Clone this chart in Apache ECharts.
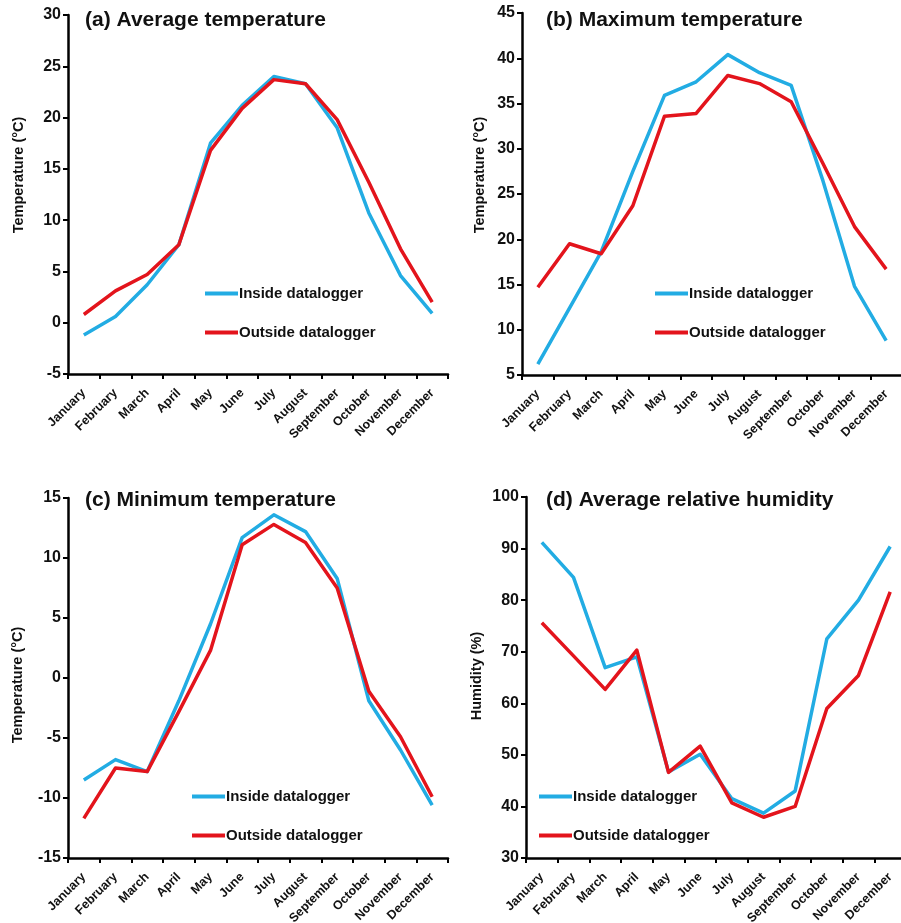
<!DOCTYPE html>
<html>
<head>
<meta charset="utf-8">
<script src="https://cdn.jsdelivr.net/npm/echarts@6/dist/echarts.min.js"></script>
<style>
html,body{margin:0;padding:0;background:#fff;}
#chart{width:901px;height:923px;}
</style>
</head>
<body>
<div id="chart"></div>
<script>
// ---- data ----
const months = ['January','February','March','April','May','June','July','August','September','October','November','December'];
const seriesNames = ['Inside datalogger','Outside datalogger'];

const aTicks = [-5, 0, 5, 10, 15, 20, 25, 30];
const aInside  = [-1.2, 0.6, 3.7, 7.6, 17.5, 21.2, 24.0, 23.3, 19.0, 10.7, 4.6, 0.9];
const aOutside = [0.8, 3.1, 4.7, 7.6, 16.8, 20.9, 23.7, 23.3, 19.8, 13.7, 7.2, 2.0];

const bTicks = [5, 10, 15, 20, 25, 30, 35, 40, 45];
const bInside  = [6.2, 12.4, 18.6, 27.5, 35.9, 37.4, 40.4, 38.4, 37.0, 26.5, 14.8, 8.8];
const bOutside = [14.7, 19.5, 18.4, 23.7, 33.6, 33.9, 38.1, 37.2, 35.2, 28.4, 21.4, 16.7];

const cTicks = [-15, -10, -5, 0, 5, 10, 15];
const cInside  = [-8.5, -6.8, -7.8, -1.9, 4.5, 11.7, 13.6, 12.2, 8.3, -1.9, -6.0, -10.6];
const cOutside = [-11.7, -7.5, -7.8, -2.8, 2.3, 11.1, 12.8, 11.3, 7.5, -1.1, -4.9, -9.9];

const dTicks = [30, 40, 50, 60, 70, 80, 90, 100];
const dInside  = [91.2, 84.4, 66.9, 69.0, 46.7, 50.1, 41.5, 38.7, 43.0, 72.5, 80.0, 90.4];
const dOutside = [75.6, 69.2, 62.7, 70.3, 46.6, 51.7, 40.7, 37.9, 40.0, 59.0, 65.4, 81.6];

const titles = ['(a) Average temperature','(b) Maximum temperature','(c) Minimum temperature','(d) Average relative humidity'];
const yNames = ['Temperature (°C)','Temperature (°C)','Temperature (°C)','Humidity (%)'];

// ---- layout / style ----
const FONT = '"Liberation Sans", Arial, sans-serif';
const BLUE = '#22ACE3';
const RED = '#E3141C';
const INK = '#111';

const panels = [
  {ticks:aTicks, inside:aInside, outside:aOutside, grid:{left:68, top:15, width:380, height:359}, titlePos:[85,10], namePos:[19,175], legendPos:[205,286]},
  {ticks:bTicks, inside:bInside, outside:bOutside, grid:{left:522, top:13, width:380, height:362}, titlePos:[546,10], namePos:[480,175], legendPos:[655,286]},
  {ticks:cTicks, inside:cInside, outside:cOutside, grid:{left:68, top:498, width:380, height:360}, titlePos:[85,490], namePos:[18,685], legendPos:[192,789]},
  {ticks:dTicks, inside:dInside, outside:dOutside, grid:{left:526, top:497, width:380, height:361}, titlePos:[546,490], namePos:[477,676], legendPos:[539,789]}
];

const option = {
  animation: false,
  backgroundColor: '#fff',
  textStyle: {fontFamily: FONT},
  title: panels.map((p, i) => ({
    text: titles[i], left: p.titlePos[0], top: p.titlePos[1], padding: 0,
    textStyle: {fontSize: 21, fontWeight: 'bold', color: INK, fontFamily: FONT}
  })),
  legend: panels.map(p => ({
    orient: 'vertical', left: p.legendPos[0], top: p.legendPos[1], padding: 0,
    icon: 'rect', itemWidth: 33, itemHeight: 4, itemGap: 24, selectedMode: false,
    textStyle: {fontSize: 15, fontWeight: 'bold', color: INK, fontFamily: FONT, padding: [0,0,0,-4]},
    data: seriesNames
  })),
  grid: panels.map(p => Object.assign({containLabel: false, outerBoundsMode: 'none'}, p.grid)),
  xAxis: panels.map((p, i) => ({
    type: 'category', gridIndex: i, data: months, boundaryGap: true,
    axisLine: {show: true, onZero: false, lineStyle: {color: '#000', width: 2.5}},
    axisTick: {show: true, length: 5, alignWithLabel: false, lineStyle: {color: '#000', width: 2}},
    axisLabel: {interval: 0, rotate: 45, fontSize: 12.5, fontWeight: 'bold', color: INK, margin: 17, fontFamily: FONT},
    splitLine: {show: false}
  })),
  yAxis: panels.map((p, i) => ({
    type: 'value', gridIndex: i,
    min: p.ticks[0], max: p.ticks[p.ticks.length - 1], interval: p.ticks[1] - p.ticks[0],
    axisLine: {show: true, lineStyle: {color: '#000', width: 2.5}},
    axisTick: {show: true, length: 5, lineStyle: {color: '#000', width: 2}},
    axisLabel: {fontSize: 16, fontWeight: 'bold', color: INK, margin: 7, fontFamily: FONT},
    splitLine: {show: false}
  })),
  series: panels.flatMap((p, i) => [
    {name: seriesNames[0], type: 'line', xAxisIndex: i, yAxisIndex: i, data: p.inside, symbol: 'none',
     color: BLUE, lineStyle: {color: BLUE, width: 3.5, join: 'round'}},
    {name: seriesNames[1], type: 'line', xAxisIndex: i, yAxisIndex: i, data: p.outside, symbol: 'none',
     color: RED, lineStyle: {color: RED, width: 3.5, join: 'round'}}
  ]),
  graphic: panels.map((p, i) => ({
    type: 'text', x: p.namePos[0], y: p.namePos[1], rotation: Math.PI / 2,
    style: {text: yNames[i], fontSize: 14.5, fontWeight: 'bold', fontFamily: FONT, fill: INK, align: 'center', verticalAlign: 'middle'}
  }))
};

const chart = echarts.init(document.getElementById('chart'), null, {renderer: 'canvas'});
chart.setOption(option);
</script>
</body>
</html>
